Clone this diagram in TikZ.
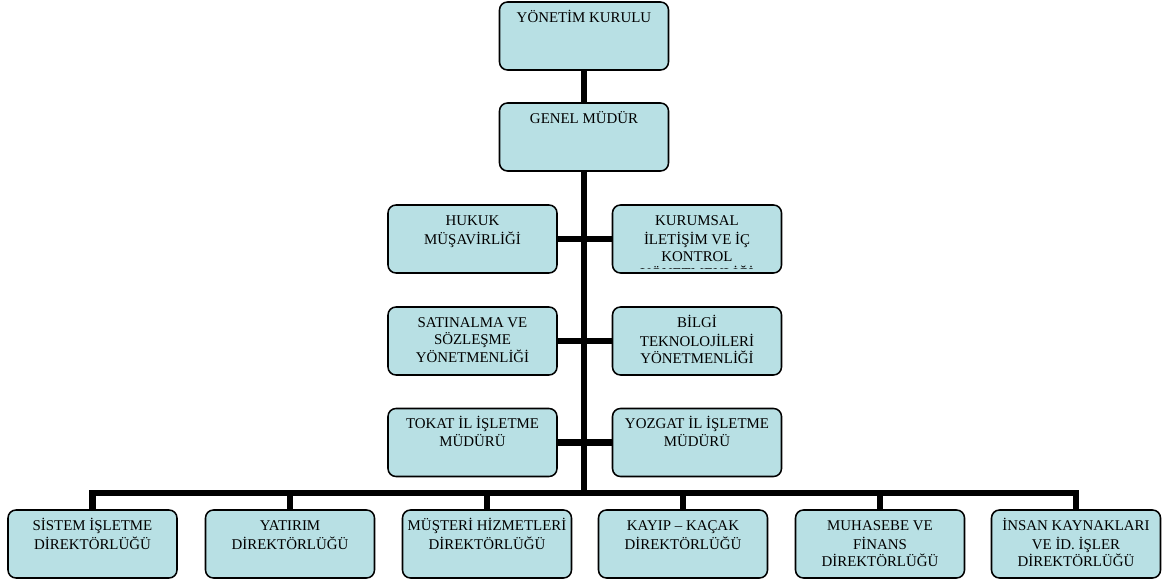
\documentclass[tikz,border=0pt]{standalone}
\usepackage{fontspec}
\setmainfont{Liberation Serif}
\usepackage{tikz}
\usetikzlibrary{positioning}

\definecolor{unitfill}{RGB}{184,224,228}
\newcommand{\unittext}[1]{\parbox[t][1.3cm][t]{4.15cm}{\centering\strut #1}}
\tikzset{
  unitfont/.style={font=\fontsize{10.6}{12.4}\selectfont},
  unit/.style={unitfont, draw=black, line width=1.1pt, fill=unitfill, rounded corners=0.2cm,
    minimum width=4.225cm, minimum height=1.7cm, inner xsep=0.5pt, inner ysep=5.5pt},
  link/.style={line width=4.3pt}
}

\begin{document}
\begin{tikzpicture}
        \useasboundingbox (0,0) rectangle (29.075,14.55);

        \node[unit] (yonetim) at (14.6,13.65) {\unittext{YÖNETİM KURULU}};
        \node[unit] (genel) at (14.6,11.125) {\unittext{GENEL MÜDÜR}};

        \node[unit] (hukuk) at (11.8125,8.575) {\unittext{HUKUK\\MÜŞAVİRLİĞİ}};
        \node[unit] (kurumsal) at (17.425,8.575) {\unittext{KURUMSAL\\İLETİŞİM VE İÇ\\KONTROL}};
        \node[unit] (satinalma) at (11.8125,6.025) {\unittext{SATINALMA VE\\SÖZLEŞME\\YÖNETMENLİĞİ}};
        \node[unit] (bilgi) at (17.425,6.025) {\unittext{BİLGİ\\TEKNOLOJİLERİ\\YÖNETMENLİĞİ}};
        \node[unit] (tokat) at (11.8125,3.4875) {\unittext{TOKAT İL İŞLETME\\MÜDÜRÜ}};
        \node[unit] (yozgat) at (17.425,3.4875) {\unittext{YOZGAT İL İŞLETME\\MÜDÜRÜ}};

        % last line of the kurumsal box is cut by the box
        \begin{scope}
        \clip ([yshift=0.12cm]kurumsal.south west) rectangle (kurumsal.north east);
        \node[unitfont, anchor=base, inner sep=0pt] (kurumsalend) at ([yshift=-0.12cm]kurumsal.south) {YÖNETMENLİĞİ};
        \end{scope}

        \node[unit] (sistem) at (2.3125,0.95) {\unittext{SİSTEM İŞLETME\\DİREKTÖRLÜĞÜ}};
        \node[unit] (yatirim) at (7.25,0.95) {\unittext{YATIRIM\\DİREKTÖRLÜĞÜ}};
        \node[unit] (musteri) at (12.175,0.95) {\unittext{MÜŞTERİ HİZMETLERİ\\DİREKTÖRLÜĞÜ}};
        \node[unit] (kayip) at (17.075,0.95) {\unittext{KAYIP -- KAÇAK\\DİREKTÖRLÜĞÜ}};
        \node[unit] (muhasebe) at (22.0,0.95) {\unittext{MUHASEBE VE\\FİNANS\\DİREKTÖRLÜĞÜ}};
        \node[unit] (insan) at (26.9,0.95) {\unittext{İNSAN KAYNAKLARI\\VE İD. İŞLER\\DİREKTÖRLÜĞÜ}};

        \coordinate (bus) at (14.6,2.225);
        \draw[link] (yonetim.south) -- (genel.north);
        \draw[link] (genel.south) -- (bus);
        \draw[link] (hukuk.east) -- (kurumsal.west);
        \draw[link] (satinalma.east) -- (bilgi.west);
        \draw[link] (tokat.east) -- (yozgat.west);
        \draw[link] (sistem.north) |- (bus) -| (insan.north);
        \draw[link] (yatirim.north) -- (yatirim.north |- bus);
        \draw[link] (musteri.north) -- (musteri.north |- bus);
        \draw[link] (kayip.north) -- (kayip.north |- bus);
        \draw[link] (muhasebe.north) -- (muhasebe.north |- bus);
\end{tikzpicture}
\end{document}
